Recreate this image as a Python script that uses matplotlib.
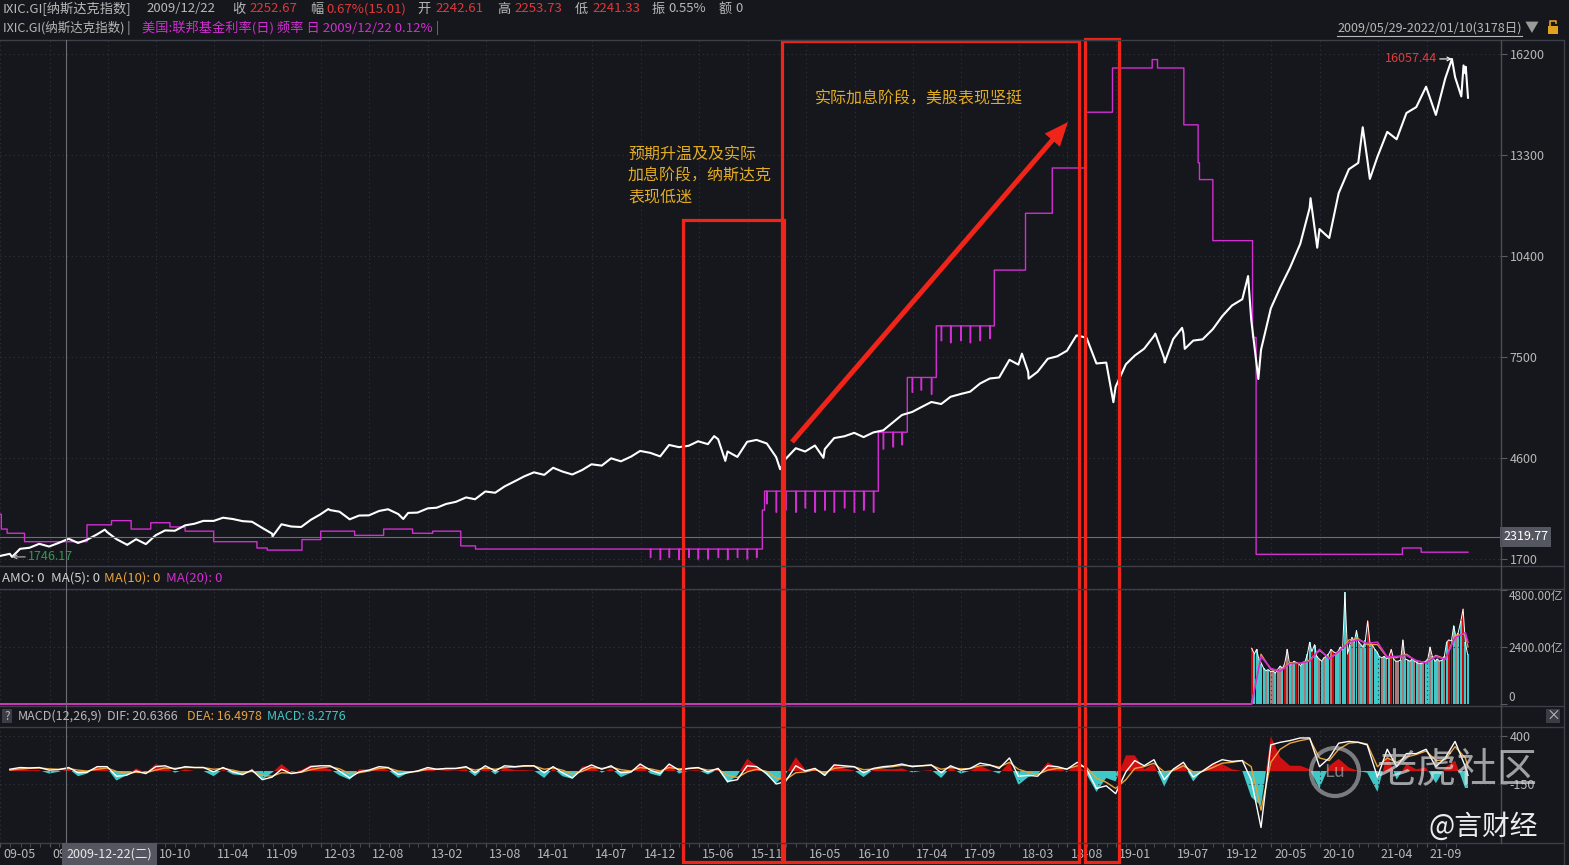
import numpy as np
import pandas as pd
import matplotlib
matplotlib.use('Agg')
import matplotlib.pyplot as plt
from matplotlib.patches import Rectangle, FancyArrow, Circle

plt.rcParams['font.family'] = ['Noto Sans CJK SC', 'DejaVu Sans']

W, H = 1569, 865
BG = '#15171c'
GRID = '#30333b'
SEP = '#3c3f47'
TXT = '#b8b8b8'
RED = '#e0383a'
MAG = '#d22ed2'
ORANGE = '#e8a33c'
CYAN = '#3ec8c8'
ANNO = '#f02418'
GOLD = '#e2ab24'

# ---- data ----
start, end = '2009-05-29', '2022-01-10'

# Nasdaq month-end closes, 2009-06 .. 2021-12
ixic_month = [
    1835, 1979, 2009, 2122, 2045, 2145, 2269,
    2147, 2238, 2398, 2461, 2257, 2109, 2255, 2114, 2369, 2507, 2498, 2653,
    2700, 2782, 2781, 2874, 2835, 2774, 2756, 2579, 2415, 2684, 2620, 2605,
    2814, 2967, 3091, 3046, 2827, 2935, 2940, 3067, 3116, 2977, 3010, 3020,
    3142, 3160, 3268, 3329, 3456, 3403, 3626, 3590, 3771, 3920, 4060, 4177,
    4104, 4308, 4199, 4115, 4243, 4408, 4370, 4580, 4493, 4631, 4792, 4736,
    4635, 4964, 4901, 4941, 5070, 4987, 5128, 4777, 4620, 5054, 5109, 5007,
    4614, 4558, 4870, 4775, 4948, 4843, 5162, 5213, 5312, 5189, 5324, 5383,
    5615, 5825, 5912, 6048, 6199, 6140, 6348, 6429, 6496, 6728, 6874, 6903,
    7411, 7273, 7063, 7066, 7442, 7510, 7672, 8110, 8046, 7306, 7331, 6635,
    7282, 7533, 7729, 8095, 7453, 8006, 8175, 7963, 7999, 8292, 8665, 8973,
    9151, 8567, 7700, 8890, 9490, 10059, 10745, 11775, 11168, 10912, 12199, 12888,
    13070, 13192, 13247, 13962, 13749, 14504, 14673, 15259, 14449, 15498, 15538, 15645,
]
# turning points between month ends
ixic_extra_dates = ['2009-05-29', '2009-07-07', '2010-04-23', '2010-07-02', '2011-04-29',
                    '2011-10-03', '2012-03-26', '2012-11-15', '2015-07-20', '2015-08-24',
                    '2016-02-11', '2016-06-27', '2018-03-12', '2018-04-02', '2018-08-29',
                    '2018-10-01', '2018-12-24', '2019-05-03', '2019-06-03', '2019-07-26',
                    '2019-08-05', '2020-02-19', '2020-03-23', '2020-09-02', '2020-09-23',
                    '2021-02-12', '2021-03-08', '2021-11-19', '2021-12-20', '2021-12-27',
                    '2022-01-03', '2022-01-10']
ixic_extra_vals = [1774, 1746.17, 2530, 2091, 2873, 2335, 3122, 2836, 5218, 4506,
                   4266, 4594, 7588, 6870, 8109, 8037, 6193, 8164, 7333, 8330,
                   7726, 9817, 6860, 12056, 10633, 14095, 12609, 16057.44, 14980, 15871,
                   15832, 14943]

# US effective fed funds rate (%), change points
rate_dates = ['2009-05-29', '2009-06-03', '2009-06-22', '2009-08-14', '2010-02-26',
              '2010-05-14', '2010-07-15', '2010-09-15', '2010-11-15', '2010-12-31',
              '2011-03-31', '2011-08-15', '2011-09-15', '2012-01-03', '2012-03-01',
              '2012-06-15', '2012-09-14', '2012-12-14', '2013-02-15', '2013-05-15',
              '2013-07-01', '2015-12-17', '2015-12-24', '2016-12-15', '2017-03-16',
              '2017-06-15', '2017-12-14', '2018-03-22', '2018-06-14', '2018-09-27',
              '2018-12-20', '2019-04-24', '2019-05-10', '2019-08-01', '2019-09-16',
              '2019-09-19', '2019-10-31', '2020-03-04', '2020-03-16', '2021-06-17',
              '2021-08-16']
rate_vals = [0.28, 0.21, 0.19, 0.15, 0.23,
             0.25, 0.21, 0.24, 0.22, 0.20,
             0.15, 0.12, 0.11, 0.16, 0.20,
             0.18, 0.21, 0.19, 0.20, 0.13,
             0.115, 0.30, 0.39, 0.67, 0.93,
             1.175, 1.44, 1.71, 1.925, 2.19,
             2.40, 2.44, 2.40, 2.13, 1.95,
             1.87, 1.58, 1.12, 0.09, 0.12,
             0.10]
# month-end dips, 2014-12 .. 2017-11
rate_dip_sizes = [0.04, 0.05, 0.04, 0.05, 0.04, 0.05, 0.05, 0.04, 0.05, 0.04, 0.05, 0.04,
                  0.06, 0.10, 0.09, 0.10, 0.08, 0.10, 0.09, 0.10, 0.08, 0.10, 0.09, 0.10,
                  0.08, 0.07, 0.06, 0.07, 0.06, 0.08, 0.07, 0.08, 0.07, 0.08, 0.07, 0.06]

# MACD(12,26,9) at month ends 2009-06 .. 2021-12, plus 2022-01-10
macd_dif = [
    20, 40, 35, 40, 10, 15, 40,
    -20, -15, 50, 50, -60, -50, 0, -30, 50, 60, 20, 50,
    40, 40, -10, 40, -10, -40, 10, -100, -70, 20, -30, -10,
    50, 60, 60, 0, -80, -10, 10, 50, 40, -40, -20, 0,
    40, 20, 30, 30, 50, -20, 60, 0, 60, 50, 60, 60,
    -20, 50, -20, -80, 20, 70, 20, 60, -20, -10, 80, 10,
    -30, 80, 10, 30, 40, -10, 30, -120, -100, 60, 50, -30,
    -150, -120, 60, 0, 30, -50, 70, 60, 50, -20, 30, 50,
    60, 80, 50, 60, 70, -20, 60, 10, 30, 90, 70, 30,
    150, -60, -50, -60, 60, 50, 20, 100, 30, -200, -170, -260,
    -10, 120, 60, 130, -100, 20, 100, -70, 0, 80, 130, 110,
    120, -100, -650, 300, 330, 350, 380, 380, 50, 150, 320, 340,
    330, 300, -70, 250, 50, 200, 200, 250, 50, 150, 340, 50,
    -50,
]
macd_dea = [
    10, 25, 30, 35, 25, 20, 28,
    10, 0, 20, 35, -5, -25, -15, -20, 10, 35, 30, 40,
    40, 40, 20, 30, 10, -15, -5, -50, -60, -20, -25, -15,
    15, 35, 50, 25, -30, -20, 0, 30, 35, 0, -10, -5,
    20, 20, 25, 28, 40, 10, 35, 20, 40, 45, 55, 58,
    20, 35, 10, -35, -5, 40, 30, 45, 15, 0, 40, 25,
    0, 40, 25, 28, 35, 10, 20, -50, -75, -10, 20, -5,
    -80, -100, -20, -10, 15, -20, 30, 45, 48, 15, 22, 38,
    50, 65, 58, 60, 65, 20, 40, 25, 28, 60, 65, 45,
    100, 20, -15, -40, 10, 30, 25, 60, 45, -80, -130, -200,
    -100, 30, 50, 90, -10, 5, 60, -10, -5, 40, 90, 100,
    120, 50, -450, 100, 250, 320, 350, 370, 150, 120, 250, 320,
    330, 310, 50, 150, 100, 160, 190, 230, 120, 130, 280, 150,
    50,
]

# weekly turnover (亿), 2020-03 .. 2022-01
vol = [
    2350, 2100, 2300, 1900, 1700, 1500, 1400, 1450, 1350, 1400, 1300, 1450,
    1600, 1500, 1700, 2300, 1650, 1700, 1800, 1750, 1700, 1600, 1750, 1800, 2100,
    2600, 2200, 2500, 2000, 1900, 1800, 1950, 2000, 2100, 2300, 2200, 2150, 2200,
    2400, 2300, 4700, 2100,
    2500, 2800, 2600, 3100, 2600, 2500, 2400, 2700, 3500, 2600, 2500, 2300, 2200,
    2000, 1950, 2000, 1900, 1950, 2300, 1900, 1800, 1800, 1850, 2700, 1900,
    1850, 1800, 1900, 1800, 1750, 1700, 1700, 1750, 1800, 1900, 2400, 2000, 1800,
    1900, 1800, 1850, 2000, 2600, 2700, 2650, 3300, 2800, 3000, 3500, 4000, 2600,
    2100,
]
vol_dir = list("ucdcccfcffcffcufcfcufccfccucc" "fcfccfuccfccu"
               "cfccfcfcucfcccfcfcucffcfccfcfcfcfccfcccfcfcuucfccucc" "c")
vol_ma10 = [0, 0, 2100, 1450, 1400, 1750, 1700, 1850, 2250, 1950, 2150, 2700,
            2750, 2500, 2500, 1950, 1950, 2100, 1800, 1750, 2050, 1900, 2900, 2950, 2400]
vol_ma20 = [0, 0, 2000, 1500, 1380, 1700, 1720, 1800, 2300, 1900, 2200, 2600,
            2700, 2550, 2600, 1980, 2000, 2050, 1830, 1730, 2000, 1880, 2800, 3000, 2600]

tick_labels = ['09-05', '09-11', '10-05', '10-10', '11-04', '11-09', '12-03', '12-08',
               '13-02', '13-08', '14-01', '14-07', '14-12', '15-06', '15-11', '16-05',
               '16-10', '17-04', '17-09', '18-03', '18-08', '19-01', '19-07', '19-12',
               '20-05', '20-10', '21-04', '21-09']
# labels fully covered by the cursor date box are not printed
hidden_labels = ['10-05']

# ---- positions on the trading-day axis ----
days = pd.bdate_range(start, end)
N = len(days)
xmax = (N - 1) * 1500 / 1468


def pos(d):
    return days.searchsorted(pd.to_datetime(d))


month_end = pd.period_range('2009-06', '2021-12', freq='M').to_timestamp(how='end').normalize()
m_idx = days.searchsorted(month_end, side='right') - 1

px = pd.Series(np.r_[ixic_month, ixic_extra_vals], index=np.r_[m_idx, pos(ixic_extra_dates)])
px = px[~px.index.duplicated(keep='last')].sort_index()

rate = pd.Series(np.nan, index=np.arange(N))
rate.iloc[pos(rate_dates)] = rate_vals
rate = rate.ffill()
dip_idx = m_idx[66:102]
rate.iloc[dip_idx] = rate.iloc[dip_idx].values - np.array(rate_dip_sizes)

macd_x = np.r_[m_idx, N - 1]
dif = np.array(macd_dif, float)
dea = np.array(macd_dea, float)
hist = 2 * (dif - dea)

vol_x = pos(pd.date_range('2020-03-02', '2022-01-07', periods=len(vol)))
ma_x = np.r_[0, pos('2020-03-02'), m_idx[129:151], N - 1]
tick_pos = pos(['20' + t + '-01' for t in tick_labels])
minor_pos = days.searchsorted(pd.period_range('2009-06', '2021-12', freq='M').to_timestamp())

# ---- figure ----
fig = plt.figure(figsize=(W / 100, H / 100), dpi=100, facecolor=BG)


def box(x0, y0, x1, y1):
    return fig.add_axes([x0 / W, 1 - y1 / H, (x1 - x0) / W, (y1 - y0) / H])


def style(a, grid_x=True):
    a.set_xlim(0, xmax)
    a.set_facecolor(BG)
    for s in a.spines.values():
        s.set_visible(False)
    a.set_xticks(tick_pos)
    a.tick_params(axis='x', which='both', bottom=False, top=False, labelbottom=False)
    if grid_x:
        a.grid(axis='x', color=GRID, ls=(0, (1, 3)), lw=0.8)
    a.yaxis.tick_right()
    a.tick_params(axis='y', direction='out', length=5, width=0.8, color='#5a5d65',
                  labelcolor=TXT, labelsize=9, pad=2)


# main panel: rate underneath, price on top
ax_rate = box(0, 40, 1500, 566)
style(ax_rate)
ax_rate.set_yticks([])
ax_rate.set_ylim(0.0345, 2.533)
ax_rate.plot(np.arange(N), rate.values, color=MAG, lw=1.0, drawstyle='steps-post')

ax = ax_rate.twinx()
style(ax, grid_x=False)
ax.set_ylim(1485, 16602)
ax.set_yticks([1700, 4600, 7500, 10400, 13300, 16200])
ax.grid(axis='y', color=GRID, ls=(0, (1, 3)), lw=0.8)
ax.plot(px.index, px.values, color='white', lw=1.5)
ax.axhline(2319.77, color='#6b6e76', lw=0.8)
ax.text(1.002, 2319.77, '2319.77', transform=ax.get_yaxis_transform(), color='white',
        fontsize=9, va='center', ha='left',
        bbox=dict(boxstyle='square,pad=0.25', fc='#54575f', ec='none'))
i_max = pos('2021-11-19')
ax.annotate('16057.44', xy=(i_max, 16057.44), xytext=(-15, 0), textcoords='offset pixels',
            ha='right', va='center', color='#e03c3c', fontsize=9,
            arrowprops=dict(arrowstyle='->,head_length=0.3,head_width=0.15', color='white',
                            lw=0.8, shrinkA=0, shrinkB=0))
i_min = pos('2009-07-07')
ax.annotate('1746.17', xy=(i_min, 1746.17), xytext=(16, 0), textcoords='offset pixels',
            ha='left', va='center', color='#2e9a4e', fontsize=9,
            arrowprops=dict(arrowstyle='->,head_length=0.3,head_width=0.15', color='#bbbbbb',
                            lw=0.8, shrinkA=0, shrinkB=0))

# turnover panel
ax_vol = box(0, 589, 1500, 704)
style(ax_vol)
ax_vol.set_ylim(0, 4842)
ax_vol.set_yticks([0, 2400, 4800])
ax_vol.set_yticklabels(['0', '2400.00亿', '4800.00亿'])
ax_vol.tick_params(axis='y', labelsize=8.5, pad=1)
labs = ax_vol.get_yticklabels()
labs[0].set_va('bottom')
labs[2].set_va('top')
ax_vol.grid(axis='y', color=GRID, ls=(0, (1, 3)), lw=0.8)
dir_col = {'c': CYAN, 'u': '#cc0a0a', 'f': '#a87a7a', 'd': CYAN}
ax_vol.bar(vol_x, vol, width=4.4, color=[dir_col[c] for c in vol_dir], lw=0)
ax_vol.plot(vol_x, vol, color='white', lw=0.7)
ax_vol.plot(ma_x, vol_ma10, color=ORANGE, lw=0.9, clip_on=False)
ax_vol.plot(ma_x, vol_ma20, color=MAG, lw=1.2, clip_on=False)

# MACD panel
ax_m = box(0, 727, 1500, 843)
style(ax_m)
ax_m.set_ylim(-828, 506)
ax_m.set_yticks([400, -150])
ax_m.set_yticklabels(['400', '-150'])
ax_m.grid(axis='y', color=GRID, ls=(0, (1, 3)), lw=0.8)
ax_m.fill_between(macd_x, 0, hist, where=hist >= 0, interpolate=True, color='#d01010', lw=0)
ax_m.fill_between(macd_x, 0, hist, where=hist <= 0, interpolate=True, color=CYAN, lw=0)
ax_m.plot(macd_x, dea, color=ORANGE, lw=1.0)
ax_m.plot(macd_x, dif, color='white', lw=1.0)
ax_m.set_xticks(minor_pos, minor=True)
ax_m.tick_params(axis='x', which='both', bottom=True, direction='out', length=3,
                 color='#50535b', labelbottom=False)
for p, t in zip(tick_pos, tick_labels):
    if t in hidden_labels:
        continue
    ax_m.annotate(t, xy=(p, 0), xycoords=('data', 'axes fraction'), xytext=(3, -11),
                  textcoords='offset pixels', ha='left', va='center', color=TXT, fontsize=9)

# ---- overlay in pixel units ----
ov = box(0, 0, W, H)
ov.set_xlim(0, W)
ov.set_ylim(H, 0)
ov.set_axis_off()
ov.set_zorder(10)

for y in [39.5, 566, 589, 705.5, 727, 843]:
    ov.plot([0, 1563], [y, y], color=SEP, lw=1)
ov.plot([1500.5, 1500.5], [39.5, 843], color='#4a4d55', lw=1)
ov.plot([1563.5, 1563.5], [39.5, 865], color=SEP, lw=1)

x_cross = pos('2009-12-22') / xmax * 1500
ov.plot([x_cross, x_cross], [40, 843], color='#6b6e76', lw=0.8)
ov.text(x_cross + 1, 854, '2009-12-22(二)', color='#e8e8e8', fontsize=9, va='center',
        ha='left', bbox=dict(boxstyle='square,pad=0.35', fc='#54575f', ec='none'))


def ftxt(x, y, s, color=TXT, size=9.5):
    ov.text(x, y, s, color=color, fontsize=size, va='center', ha='left')


# header rows
for x, s, c in [(3, 'IXIC.GI[纳斯达克指数]', TXT), (146, '2009/12/22', TXT),
                (232, '收', TXT), (249, '2252.67', RED), (310, '幅', TXT),
                (326, '0.67%(15.01)', RED), (417, '开', TXT), (435, '2242.61', RED),
                (497, '高', TXT), (514, '2253.73', RED), (575, '低', TXT),
                (592, '2241.33', RED), (652, '振', TXT), (668, '0.55%', TXT),
                (719, '额', TXT), (735, '0', TXT)]:
    ftxt(x, 9, s, c)
ftxt(3, 28, 'IXIC.GI(纳斯达克指数) |', TXT, 9)
ftxt(142, 28, '美国:联邦基金利率(日) 频率 日 2009/12/22 0.12% |', MAG)
ftxt(1337, 28, '2009/05/29-2022/01/10(3178日)', TXT, 9)
ov.plot([1337, 1522], [36, 36], color=TXT, lw=0.8)
ftxt(1525, 28, '▼', '#9a9a9a', 10)
ov.add_patch(Rectangle((1548, 26), 10, 8, fc='#e0a020', ec='none'))
ov.plot([1550, 1550, 1556, 1556], [26, 21, 21, 23], color='#e0a020', lw=1.2)

# sub-panel headers
for x, s, c in [(2, 'AMO: 0', '#d0d0d0'), (51, 'MA(5): 0', '#d0d0d0'),
                (104, 'MA(10): 0', ORANGE), (166, 'MA(20): 0', MAG)]:
    ftxt(x, 578, s, c)
ov.add_patch(Rectangle((2, 709), 10, 14, fc='#3a3d45', ec='none'))
ftxt(4, 716, '?', TXT, 8.5)
for x, s, c in [(18, 'MACD(12,26,9)', TXT), (107, 'DIF: 20.6366', TXT),
                (187, 'DEA: 16.4978', ORANGE), (267, 'MACD: 8.2776', CYAN)]:
    ftxt(x, 716, s, c, 9)
ov.add_patch(Rectangle((1546, 709), 14, 14, fc='#3a3d45', ec='none'))
ov.text(1553, 716, '×', color='#c0c0c0', fontsize=10, ha='center', va='center')

# annotations: boxes, arrow and notes
for x0, y0, x1 in [(683, 220, 784), (782, 41, 1079), (1085, 39, 1119)]:
    ov.add_patch(Rectangle((x0, y0), x1 - x0, 862 - y0, fill=False, ec=ANNO, lw=2.3))
ov.add_patch(FancyArrow(792, 442, 1068 - 792, 122 - 442, width=5, head_width=20,
                        head_length=24, length_includes_head=True, color=ANNO, lw=0))
for i, line in enumerate(['预期升温及及实际', '加息阶段，纳斯达克', '表现低迷']):
    ov.text(628, 155 + 21 * i, line, color=GOLD, fontsize=11.5, va='center', ha='left')
ov.text(815, 99, '实际加息阶段，美股表现坚挺', color=GOLD, fontsize=11.5, va='center', ha='left')

# watermark
ov.add_patch(Circle((1335, 772), 24, fill=False, ec='#cfcfcf', lw=3, alpha=0.55))
ov.text(1335, 772, 'Lu', color='#cfcfcf', alpha=0.55, fontsize=13, ha='center', va='center')
ov.text(1457, 770, '老虎社区', color='#dcdcdc', alpha=0.7, fontsize=29, ha='center', va='center')
ov.text(1483, 827, '@言财经', color='white', alpha=0.92, fontsize=20, ha='center', va='center')

fig.savefig('out.png', dpi=100, facecolor=BG)
